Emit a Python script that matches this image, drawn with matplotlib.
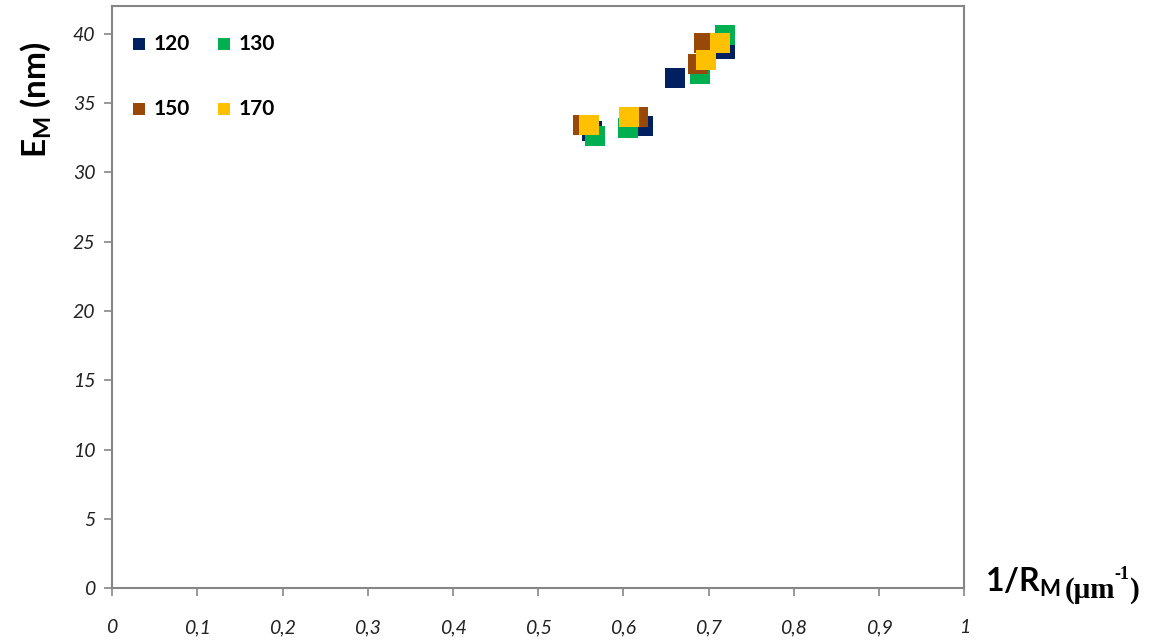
import numpy as np
import matplotlib.pyplot as plt

# Données
x_120 = [0.563, 0.623, 0.661, 0.719]
y_120 = [33.0, 33.3, 36.8, 38.9]
x_130 = [0.567, 0.605, 0.690, 0.719]
y_130 = [32.6, 33.2, 37.1, 39.9]
x_150 = [0.552, 0.617, 0.688, 0.695]
y_150 = [33.4, 34.0, 37.8, 39.3]
x_170 = [0.560, 0.607, 0.697, 0.713]
y_170 = [33.4, 34.0, 38.1, 39.3]

labels = ['120', '130', '150', '170']
colors = ['#002060', '#00B050', '#984807', '#FFC000']
xs = [x_120, x_130, x_150, x_170]
ys = [y_120, y_130, y_150, y_170]

x_ticks = [0, 0.1, 0.2, 0.3, 0.4, 0.5, 0.6, 0.7, 0.8, 0.9, 1]
y_ticks = [0, 5, 10, 15, 20, 25, 30, 35, 40]

plt.rcParams['font.family'] = ['Lato', 'DejaVu Sans']
plt.rcParams['mathtext.fontset'] = 'custom'
plt.rcParams['mathtext.rm'] = 'Lato'
plt.rcParams['mathtext.bf'] = 'Lato:bold'
plt.rcParams['mathtext.it'] = 'Lato:italic'

fig = plt.figure(figsize=(11.55, 6.43), dpi=100)
ax = fig.add_axes([0.097, 0.085, 0.738, 0.906])

handles = []
for x, y, c, lab in zip(xs, ys, colors, labels):
    h = ax.scatter(x, y, marker='s', s=210, color=c, label=lab, zorder=3, linewidths=0)
    handles.append(h)

ax.set_xlim(0, 1)
ax.set_ylim(0, 42)
ax.set_xticks(x_ticks)
ax.set_yticks(y_ticks)
ax.set_xticklabels([('%g' % t).replace('.', ',') for t in x_ticks],
                   fontstyle='italic', fontsize=14, color='#222222')
ax.set_yticklabels([str(t) for t in y_ticks],
                   fontstyle='italic', fontsize=14, color='#222222')
ax.tick_params(axis='x', direction='out', length=6, width=1.2, color='#868686', pad=16)
ax.tick_params(axis='y', direction='out', length=6, width=1.2, color='#868686', pad=6)
for s in ax.spines.values():
    s.set_color('#868686')
    s.set_linewidth(1.5)

# Légende
leg = ax.legend(handles=[handles[0], handles[2], handles[1], handles[3]],
                labels=['120', '150', '130', '170'],
                ncol=2, loc='upper left', bbox_to_anchor=(0.0, 0.984),
                frameon=False, markerscale=0.62, handlelength=0.8, handletextpad=0.3,
                columnspacing=1.25, labelspacing=2.15,
                prop={'weight': 'bold', 'size': 15})

# Titres des axes
fig.text(0.031, 0.845, r'E$_{\mathbf{M}}$ (nm)', fontsize=24, fontweight='bold',
         rotation=90, ha='center', va='center')

renderer = fig.canvas.get_renderer()
base_y = 0.079
t1 = fig.text(0.853, base_y, r'1/R$_{\mathbf{M}}$', fontsize=23, fontweight='bold',
              ha='left', va='baseline')
x1 = t1.get_window_extent(renderer).x1 / fig.bbox.width
t2 = fig.text(x1 + 0.003, base_y - 0.008, '(μm', fontsize=21, fontweight='bold',
              family='Liberation Serif', ha='left', va='baseline')
x2 = t2.get_window_extent(renderer).x1 / fig.bbox.width
t3 = fig.text(x2, base_y + 0.02, '-1', fontsize=13, fontweight='bold',
              family='Liberation Serif', ha='left', va='baseline')
x3 = t3.get_window_extent(renderer).x1 / fig.bbox.width
fig.text(x3, base_y - 0.008, ')', fontsize=21, fontweight='bold',
         family='Liberation Serif', ha='left', va='baseline')

fig.savefig('out.png', dpi=100)
